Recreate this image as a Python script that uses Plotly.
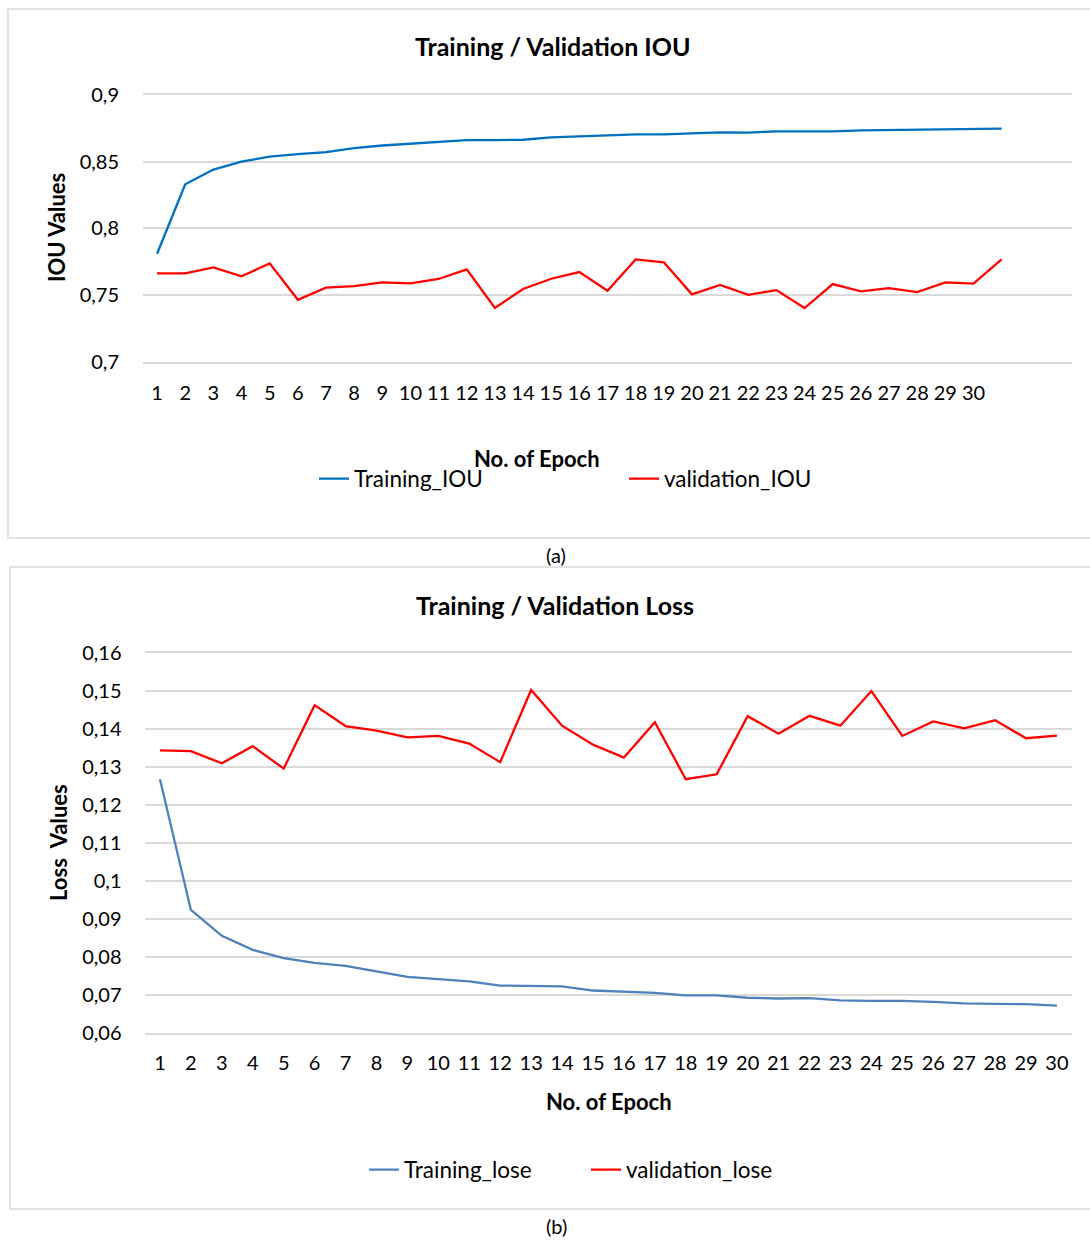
import plotly.graph_objects as go

# ---------------- data ----------------
iou_epochs = list(range(1, 32))
iou_tick_vals = list(range(1, 31))
iou_tick_text = [str(i) for i in range(1, 31)]
training_iou = [0.781, 0.833, 0.844, 0.850, 0.8536, 0.8556, 0.857, 0.860, 0.862, 0.8633,
                0.8644, 0.866, 0.866, 0.8663, 0.868, 0.8686, 0.8693, 0.8703, 0.8703, 0.8713,
                0.8718, 0.8716, 0.8726, 0.8726, 0.8726, 0.8733, 0.8736, 0.8741, 0.8743, 0.8746,
                0.8746]
validation_iou = [0.7663, 0.7663, 0.7708, 0.7641, 0.7738, 0.7466, 0.7556, 0.7568, 0.7596, 0.7588,
                  0.7621, 0.7693, 0.7404, 0.7546, 0.7623, 0.7673, 0.7533, 0.7768, 0.7746, 0.7506,
                  0.7576, 0.7503, 0.7538, 0.7404, 0.7583, 0.7528, 0.7553, 0.7523, 0.7596, 0.7586,
                  0.7768]
iou_y_vals = [0.7, 0.75, 0.8, 0.85, 0.9]
iou_y_text = ["0,7", "0,75", "0,8", "0,85", "0,9"]

loss_epochs = list(range(1, 31))
loss_tick_text = [str(i) for i in range(1, 31)]
training_loss = [0.1267, 0.0923, 0.0855, 0.0818, 0.0796, 0.0784, 0.0776, 0.0761, 0.0747, 0.0741,
                 0.0735, 0.0724, 0.0723, 0.0722, 0.0711, 0.0708, 0.0705, 0.0698, 0.0698, 0.0692,
                 0.0690, 0.0691, 0.0685, 0.0684, 0.0684, 0.0681, 0.0677, 0.0676, 0.0675, 0.0671]
validation_loss = [0.1343, 0.1341, 0.1309, 0.1354, 0.1295, 0.1462, 0.1407, 0.1395, 0.1377, 0.1381,
                   0.1361, 0.1312, 0.1502, 0.1408, 0.1358, 0.1324, 0.1417, 0.1267, 0.1280, 0.1433,
                   0.1387, 0.1434, 0.1408, 0.1499, 0.1381, 0.1419, 0.1401, 0.1422, 0.1375, 0.1382]
loss_y_vals = [0.06, 0.07, 0.08, 0.09, 0.10, 0.11, 0.12, 0.13, 0.14, 0.15, 0.16]
loss_y_text = ["0,06", "0,07", "0,08", "0,09", "0,1", "0,11", "0,12", "0,13", "0,14", "0,15", "0,16"]

# ---------------- layout helpers ----------------
W, H = 1090, 1240
FONT = "Lato, 'Open Sans', sans-serif"
GRID = "#D9D9D9"


def px(x):
    return x / W


def py(y):
    return 1 - y / H


fig = go.Figure()

fig.add_trace(go.Scatter(x=iou_epochs, y=training_iou, mode="lines", name="Training_IOU",
                         line=dict(color="#0070C0", width=2.3), xaxis="x", yaxis="y", legend="legend"))
fig.add_trace(go.Scatter(x=iou_epochs, y=validation_iou, mode="lines", name="validation_IOU",
                         line=dict(color="#FF0000", width=2.3), xaxis="x", yaxis="y", legend="legend"))
fig.add_trace(go.Scatter(x=loss_epochs, y=training_loss, mode="lines", name="Training_lose",
                         line=dict(color="#4F81BD", width=2.3), xaxis="x2", yaxis="y2", legend="legend2"))
fig.add_trace(go.Scatter(x=loss_epochs, y=validation_loss, mode="lines", name="validation_lose",
                         line=dict(color="#FF0000", width=2.3), xaxis="x2", yaxis="y2", legend="legend2"))

tick_font = dict(family=FONT, size=20, color="#000000")

common_x = dict(showgrid=False, zeroline=False, showline=True, mirror=True, linecolor=GRID,
                linewidth=1.5, ticks="", tickfont=tick_font, fixedrange=True, ticklabelstandoff=12,
                automargin=False)
common_y = dict(showgrid=True, gridcolor=GRID, gridwidth=1.5, zeroline=False, showline=False,
                ticks="", tickfont=tick_font, fixedrange=True, automargin=False)

leg_font = dict(family=FONT, size=22.5, color="#000000")

fig.update_layout(
    width=W, height=H,
    margin=dict(l=0, r=0, t=0, b=0, pad=0, autoexpand=False),
    paper_bgcolor="white", plot_bgcolor="white",
    font=dict(family=FONT, color="#000000"),
    xaxis=dict(common_x, domain=[px(143), px(1072)], range=[0.5, 33.5],
               tickvals=iou_tick_vals, ticktext=iou_tick_text, anchor="y"),
    yaxis=dict(common_y, domain=[py(362), py(94.7)], range=[0.7, 0.9],
               tickvals=iou_y_vals, ticktext=iou_y_text, anchor="x", ticklabelstandoff=23),
    xaxis2=dict(common_x, domain=[px(144.5), px(1072.4)], range=[0.5, 30.5],
                tickvals=loss_epochs, ticktext=loss_tick_text, anchor="y2"),
    yaxis2=dict(common_y, domain=[py(1032.7), py(652.7)], range=[0.06, 0.16],
                tickvals=loss_y_vals, ticktext=loss_y_text, anchor="x2", ticklabelstandoff=22),
    legend=dict(orientation="h", x=px(314), xanchor="left", y=py(479), yanchor="middle",
                bgcolor="rgba(0,0,0,0)", font=leg_font,
                entrywidth=265, entrywidthmode="pixels", tracegroupgap=0),
    legend2=dict(orientation="h", x=px(364), xanchor="left", y=py(1170), yanchor="middle",
                 bgcolor="rgba(0,0,0,0)", font=leg_font,
                 entrywidth=177, entrywidthmode="pixels", tracegroupgap=0),
    showlegend=True,
)

# panel frames (right edges run off the page, as in the reference)
fig.add_shape(type="rect", xref="paper", yref="paper", x0=px(8), x1=px(1093), y0=py(538), y1=py(9),
              line=dict(color=GRID, width=1.5), fillcolor="rgba(0,0,0,0)", layer="below")
fig.add_shape(type="rect", xref="paper", yref="paper", x0=px(10), x1=px(1093), y0=py(1209), y1=py(567),
              line=dict(color=GRID, width=1.5), fillcolor="rgba(0,0,0,0)", layer="below")

bold_title = dict(family=FONT, size=25, color="#000000")
bold_axis = dict(family=FONT, size=22, color="#000000")
small = dict(family=FONT, size=20, color="#000000")
ann = [
    dict(text="<b>Training / Validation IOU</b>", x=px(553), y=py(46), font=bold_title),
    dict(text="<b>IOU Values</b>", x=px(57), y=py(228), font=bold_axis, textangle=-90),
    dict(text="<b>No. of Epoch</b>", x=px(537), y=py(458), font=bold_axis),
    dict(text="(a)", x=px(556), y=py(555), font=small),
    dict(text="<b>Training / Validation Loss</b>", x=px(555), y=py(605), font=bold_title),
    dict(text="<b>Loss  Values</b>", x=px(58), y=py(843), font=bold_axis, textangle=-90),
    dict(text="<b>No. of Epoch</b>", x=px(609), y=py(1101), font=bold_axis),
    dict(text="(b)", x=px(556), y=py(1226), font=small),
]
for a in ann:
    fig.add_annotation(xref="paper", yref="paper", showarrow=False, xanchor="center", yanchor="middle", **a)

pin_page = (
    "document.documentElement.style.margin='0';"
    "document.body.style.margin='0';"
    "document.body.style.overflow='hidden';"
    "document.documentElement.style.overflow='hidden';"
    "var gd=document.getElementById('{plot_id}');"
    "gd.style.position='absolute';gd.style.left='0px';gd.style.top='0px';"
)
fig.write_html("out.html", post_script=pin_page, config={"displayModeBar": False})
